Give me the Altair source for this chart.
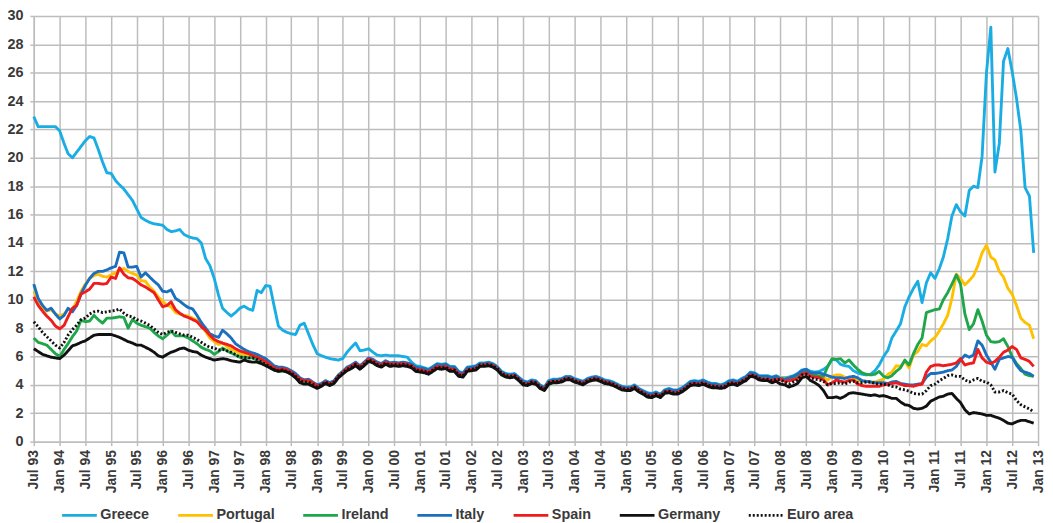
import altair as alt
import pandas as pd

START = "1993-07-01"
N_MONTHS = 234  # Jul 1993 .. Dec 2012, monthly

# Monthly 10-year government bond yields (%)
greece = [
    22.9, 22.2, 22.2, 22.2, 22.2, 22.2,
    21.9, 21.0, 20.3, 20.0, 20.4, 20.8, 21.2, 21.5, 21.4, 20.6, 19.7, 18.95,
    18.9, 18.4, 18.1, 17.8, 17.4, 17.0, 16.4, 15.8, 15.6, 15.45, 15.35, 15.3,
    15.25, 14.95, 14.8, 14.85, 14.95, 14.6, 14.45, 14.35, 14.3, 14.0, 12.9, 12.4,
    11.5, 10.3, 9.4, 9.1, 8.85, 9.1, 9.4, 9.55, 9.35, 9.25, 10.65, 10.5,
    11.0, 10.95, 9.6, 8.15, 7.85, 7.7, 7.6, 7.55, 8.2, 8.35, 7.6, 6.85,
    6.2, 6.05, 5.95, 5.85, 5.8, 5.75, 5.85, 6.3, 6.65, 6.95, 6.4, 6.45,
    6.55, 6.3, 6.1, 6.05, 6.1, 6.05, 6.05, 6.05, 6.0, 5.95, 5.6, 5.35,
    5.3, 5.2, 5.1, 5.3, 5.5, 5.45, 5.5, 5.3, 5.3, 4.95, 4.85, 5.25,
    5.3, 5.35, 5.55, 5.55, 5.6, 5.5, 5.3, 4.95, 4.8, 4.75, 4.8, 4.55,
    4.3, 4.2, 4.35, 4.3, 4.0, 3.85, 4.3, 4.4, 4.4, 4.45, 4.6, 4.6,
    4.45, 4.35, 4.25, 4.45, 4.55, 4.6, 4.5, 4.35, 4.3, 4.2, 4.05, 3.9,
    3.85, 3.85, 4.0, 3.75, 3.6, 3.45, 3.4, 3.5, 3.35, 3.65, 3.75, 3.65,
    3.65, 3.8, 4.0, 4.25, 4.3, 4.25, 4.35, 4.2, 4.1, 4.1, 4.0, 4.1,
    4.3, 4.35, 4.25, 4.45, 4.6, 4.9, 4.85, 4.65, 4.65, 4.65, 4.55, 4.65,
    4.5, 4.5, 4.55, 4.65, 4.8, 5.05, 5.1, 4.95, 4.9, 4.95, 5.1, 5.3,
    5.8, 5.75, 5.45, 5.35, 5.3, 5.0, 4.85, 4.75, 4.7, 4.75, 5.0, 5.4,
    6.0, 6.45, 7.3, 7.8, 8.3, 9.5, 10.2, 10.8, 11.3, 9.8, 11.2, 11.9,
    11.5, 12.2, 13.0, 14.3, 15.9, 16.7, 16.2, 15.9, 17.7, 18.0, 17.9, 20.1,
    26.0, 29.2, 19.0, 21.0, 26.8, 27.7, 26.1, 24.2, 21.9, 17.9, 17.3, 13.3,
]

portugal = [
    10.6, 10.0, 9.4, 9.2, 9.3, 9.0,
    8.85, 9.0, 9.3, 9.3, 9.9, 10.6, 11.1, 11.5, 11.7, 11.8, 11.65, 11.6,
    11.75, 11.9, 12.1, 12.2, 12.0, 11.85, 11.75, 11.35, 11.3, 10.9, 10.6, 10.2,
    9.9, 9.6, 9.5, 9.1, 9.0, 8.9, 8.85, 8.7, 8.55, 8.2, 7.75, 7.3,
    7.05, 6.85, 6.95, 6.7, 6.5, 6.4, 6.2, 6.15, 6.1, 6.1, 6.0, 5.8,
    5.6, 5.4, 5.2, 5.1, 5.15, 5.0, 4.85, 4.6, 4.35, 4.25, 4.25, 4.1,
    3.95, 4.05, 4.25, 4.1, 4.25, 4.65, 4.9, 5.2, 5.35, 5.55, 5.3, 5.55,
    5.85, 5.75, 5.55, 5.45, 5.65, 5.5, 5.55, 5.5, 5.55, 5.5, 5.4, 5.15,
    5.1, 5.05, 4.95, 5.15, 5.35, 5.3, 5.35, 5.15, 5.15, 4.8, 4.75, 5.1,
    5.15, 5.2, 5.45, 5.45, 5.5, 5.4, 5.2, 4.85, 4.7, 4.65, 4.7, 4.45,
    4.15, 4.1, 4.25, 4.2, 3.9, 3.75, 4.2, 4.3, 4.3, 4.35, 4.5, 4.5,
    4.35, 4.25, 4.15, 4.35, 4.45, 4.5, 4.4, 4.25, 4.2, 4.1, 3.95, 3.8,
    3.75, 3.75, 3.9, 3.65, 3.5, 3.3, 3.25, 3.4, 3.25, 3.55, 3.65, 3.55,
    3.55, 3.7, 3.9, 4.15, 4.2, 4.15, 4.25, 4.1, 4.0, 4.0, 3.9, 4.0,
    4.2, 4.25, 4.15, 4.35, 4.5, 4.8, 4.75, 4.55, 4.55, 4.5, 4.4, 4.5,
    4.5, 4.45, 4.5, 4.55, 4.65, 4.85, 4.95, 4.75, 4.7, 4.65, 4.55, 4.35,
    4.6, 4.7, 4.7, 4.55, 4.45, 4.4, 4.3, 4.25, 4.25, 4.2, 4.2, 4.3,
    4.4, 4.75, 4.9, 5.35, 5.3, 5.65, 5.2, 6.1, 6.35, 6.85, 6.75, 7.1,
    7.35, 7.8, 8.3, 8.9, 10.1, 11.8, 11.5, 11.05, 11.35, 11.7, 12.4, 13.3,
    13.85, 13.0, 12.8, 12.0, 11.6, 10.8, 10.4, 9.6, 8.7, 8.4, 8.2, 7.25,
]

ireland = [
    7.3, 7.0, 6.9, 6.8, 6.5, 6.2,
    6.0, 6.5, 6.9, 7.4, 7.8, 8.55, 8.45, 8.5, 8.9, 8.6, 8.35, 8.7,
    8.7, 8.75, 8.8, 8.75, 8.0, 8.6, 8.35, 8.2, 8.1, 8.0, 7.7, 7.45,
    7.25, 7.5, 7.8, 7.45, 7.45, 7.45, 7.3, 7.1, 6.9, 6.65, 6.5, 6.4,
    6.15, 6.35, 6.6, 6.4, 6.25, 6.1, 5.95, 5.95, 5.9, 5.9, 5.75, 5.6,
    5.45, 5.2, 5.05, 4.95, 5.0, 4.9, 4.75, 4.5, 4.2, 4.1, 4.1, 3.95,
    3.8, 3.95, 4.15, 4.0, 4.15, 4.55, 4.8, 5.05, 5.2, 5.4, 5.15, 5.4,
    5.7, 5.6, 5.4, 5.3, 5.5, 5.35, 5.4, 5.35, 5.4, 5.35, 5.25, 5.0,
    4.95, 4.9, 4.8, 5.0, 5.2, 5.15, 5.2, 5.0, 5.0, 4.65, 4.6, 5.0,
    5.05, 5.1, 5.35, 5.35, 5.4, 5.3, 5.1, 4.75, 4.6, 4.55, 4.6, 4.35,
    4.05, 4.0, 4.15, 4.1, 3.8, 3.65, 4.0, 4.2, 4.2, 4.25, 4.4, 4.4,
    4.25, 4.15, 4.05, 4.25, 4.35, 4.4, 4.3, 4.15, 4.1, 4.0, 3.85, 3.7,
    3.65, 3.65, 3.8, 3.55, 3.35, 3.15, 3.1, 3.25, 3.15, 3.45, 3.5, 3.4,
    3.4, 3.55, 3.75, 4.0, 4.05, 4.0, 4.1, 3.95, 3.85, 3.85, 3.8, 3.85,
    4.05, 4.1, 4.0, 4.2, 4.35, 4.65, 4.6, 4.4, 4.35, 4.35, 4.25, 4.35,
    4.45, 4.4, 4.45, 4.5, 4.6, 4.85, 4.95, 4.75, 4.7, 4.6, 4.6, 5.3,
    5.85, 5.8, 5.85, 5.55, 5.75, 5.4, 5.1, 4.85, 4.75, 4.7, 4.75, 4.95,
    4.6, 4.5, 4.65, 4.95, 5.2, 5.75, 5.4, 6.2, 6.85, 7.3, 9.1, 9.2,
    9.3, 9.35, 10.0, 10.5, 11.1, 11.75, 11.1, 9.0, 7.9, 8.3, 9.3, 8.5,
    7.5, 7.05, 7.0, 7.05, 7.25, 6.7, 6.0, 5.5, 5.15, 4.75, 4.65, 4.6,
]

italy = [
    11.1, 10.1, 9.6, 9.25, 9.4, 9.0,
    8.65, 8.9, 9.4, 9.15, 9.6, 10.4, 11.0, 11.5, 11.85, 12.0, 12.0, 12.1,
    12.25, 12.35, 13.35, 13.3, 12.3, 12.3, 12.35, 11.6, 11.9, 11.6, 11.3, 11.05,
    10.6, 10.55, 10.7, 10.1, 9.9, 9.65, 9.45, 9.35, 8.9, 8.4, 8.0, 7.6,
    7.45, 7.35, 7.85, 7.6, 7.3, 6.9, 6.7, 6.5, 6.35, 6.25, 6.15, 6.0,
    5.85, 5.6, 5.35, 5.25, 5.25, 5.15, 5.0, 4.8, 4.5, 4.35, 4.4, 4.2,
    4.0, 4.1, 4.3, 4.15, 4.3, 4.7, 4.95, 5.25, 5.4, 5.6, 5.35, 5.6,
    5.9, 5.8, 5.6, 5.5, 5.7, 5.55, 5.6, 5.55, 5.6, 5.55, 5.45, 5.25,
    5.2, 5.15, 5.05, 5.25, 5.45, 5.4, 5.45, 5.25, 5.25, 4.9, 4.8, 5.2,
    5.25, 5.3, 5.5, 5.5, 5.55, 5.45, 5.25, 4.9, 4.75, 4.7, 4.75, 4.5,
    4.25, 4.15, 4.3, 4.25, 3.95, 3.8, 4.25, 4.35, 4.35, 4.4, 4.55, 4.55,
    4.4, 4.3, 4.2, 4.4, 4.5, 4.55, 4.45, 4.3, 4.25, 4.15, 4.0, 3.85,
    3.8, 3.8, 3.95, 3.7, 3.55, 3.4, 3.35, 3.45, 3.3, 3.6, 3.7, 3.6,
    3.6, 3.75, 3.95, 4.2, 4.25, 4.2, 4.3, 4.15, 4.05, 4.05, 3.95, 4.05,
    4.25, 4.3, 4.2, 4.4, 4.55, 4.85, 4.8, 4.6, 4.6, 4.6, 4.5, 4.6,
    4.45, 4.4, 4.5, 4.6, 4.75, 5.0, 5.1, 4.85, 4.85, 4.85, 4.75, 4.65,
    4.55, 4.5, 4.5, 4.45, 4.55, 4.6, 4.5, 4.3, 4.25, 4.2, 4.15, 4.15,
    4.15, 4.1, 4.2, 4.25, 4.1, 4.05, 4.0, 4.0, 4.05, 4.1, 4.55, 4.8,
    4.8, 4.85, 4.9, 5.0, 5.05, 5.3, 5.75, 6.1, 5.95, 6.1, 7.1, 6.8,
    6.1, 5.6, 5.1, 5.8, 5.9, 6.0, 5.95, 5.4, 5.0, 4.9, 4.8, 4.6,
]

spain = [
    10.2, 9.6, 9.2, 8.85, 8.55, 8.15,
    7.95, 8.2, 8.8, 9.4, 9.6, 10.4, 10.55, 10.75, 11.15, 11.15, 11.1, 11.15,
    11.6, 11.5, 12.25, 11.8, 11.55, 11.5, 11.3, 11.05, 10.9, 10.7, 10.5, 10.0,
    9.5, 9.6, 9.85, 9.3, 9.05, 8.85, 8.75, 8.6, 8.45, 8.1, 7.85, 7.5,
    7.2, 7.05, 6.95, 6.85, 6.75, 6.55, 6.4, 6.3, 6.2, 6.05, 5.95, 5.8,
    5.65, 5.4, 5.2, 5.1, 5.15, 5.05, 4.9, 4.65, 4.4, 4.3, 4.3, 4.15,
    3.9, 4.0, 4.2, 4.05, 4.2, 4.6, 4.85, 5.15, 5.3, 5.5, 5.25, 5.5,
    5.8, 5.7, 5.5, 5.4, 5.6, 5.45, 5.5, 5.45, 5.5, 5.45, 5.35, 5.1,
    5.05, 5.0, 4.9, 5.1, 5.3, 5.25, 5.3, 5.1, 5.1, 4.75, 4.7, 5.05,
    5.1, 5.15, 5.4, 5.4, 5.45, 5.35, 5.15, 4.8, 4.65, 4.6, 4.65, 4.4,
    4.1, 4.05, 4.2, 4.15, 3.85, 3.7, 4.15, 4.25, 4.25, 4.3, 4.45, 4.45,
    4.3, 4.2, 4.1, 4.3, 4.4, 4.45, 4.35, 4.2, 4.15, 4.05, 3.9, 3.75,
    3.7, 3.7, 3.85, 3.6, 3.45, 3.25, 3.2, 3.35, 3.2, 3.5, 3.55, 3.45,
    3.45, 3.6, 3.8, 4.05, 4.1, 4.05, 4.15, 4.0, 3.9, 3.9, 3.85, 3.9,
    4.1, 4.15, 4.05, 4.25, 4.4, 4.7, 4.65, 4.45, 4.4, 4.4, 4.3, 4.4,
    4.4, 4.25, 4.3, 4.35, 4.45, 4.75, 4.85, 4.6, 4.55, 4.5, 4.35, 4.0,
    4.15, 4.35, 4.25, 4.2, 4.3, 4.35, 4.05, 3.95, 3.9, 3.9, 3.9, 3.9,
    4.0, 4.05, 4.1, 4.15, 4.05, 3.95, 3.95, 3.9, 4.0, 4.05, 4.9, 5.3,
    5.4, 5.4, 5.35, 5.4, 5.45, 5.55, 5.85, 5.4, 5.5, 5.55, 6.5, 5.9,
    5.6, 5.5, 5.65, 5.95, 6.3, 6.45, 6.7, 6.5, 5.9, 5.8, 5.65, 5.3,
]

germany = [
    6.55, 6.35, 6.15, 6.05, 5.95, 5.9,
    5.85, 6.1, 6.4, 6.75, 6.85, 7.0, 7.1, 7.3, 7.5, 7.55, 7.55, 7.55,
    7.55, 7.45, 7.35, 7.2, 7.05, 6.95, 6.8, 6.8, 6.65, 6.5, 6.3, 6.05,
    5.95, 6.15, 6.3, 6.4, 6.55, 6.6, 6.45, 6.35, 6.3, 6.1, 5.95, 5.85,
    5.75, 5.8, 5.85, 5.8, 5.7, 5.65, 5.6, 5.75, 5.65, 5.6, 5.6, 5.5,
    5.35, 5.2, 5.05, 4.95, 5.0, 4.9, 4.75, 4.5, 4.15, 4.05, 4.05, 3.9,
    3.75, 3.9, 4.1, 3.95, 4.1, 4.5, 4.75, 5.0, 5.15, 5.35, 5.1, 5.35,
    5.65, 5.55, 5.35, 5.25, 5.45, 5.3, 5.35, 5.3, 5.35, 5.3, 5.2, 4.95,
    4.9, 4.85, 4.75, 4.95, 5.15, 5.1, 5.15, 4.95, 4.95, 4.6, 4.55, 4.95,
    5.0, 5.05, 5.3, 5.3, 5.35, 5.25, 5.05, 4.7, 4.55, 4.5, 4.55, 4.3,
    4.0, 3.95, 4.1, 4.05, 3.75, 3.6, 4.05, 4.15, 4.15, 4.2, 4.35, 4.35,
    4.2, 4.1, 4.0, 4.2, 4.3, 4.35, 4.25, 4.1, 4.05, 3.95, 3.8, 3.65,
    3.6, 3.6, 3.75, 3.5, 3.35, 3.15, 3.1, 3.25, 3.1, 3.4, 3.45, 3.35,
    3.35, 3.5, 3.7, 3.95, 4.0, 3.95, 4.05, 3.9, 3.8, 3.8, 3.75, 3.8,
    4.0, 4.05, 3.95, 4.15, 4.3, 4.6, 4.55, 4.35, 4.3, 4.3, 4.15, 4.25,
    4.05, 4.0, 3.85, 3.95, 4.1, 4.5, 4.6, 4.3, 4.15, 3.95, 3.6, 3.1,
    3.1, 3.15, 3.05, 3.2, 3.4, 3.45, 3.4, 3.35, 3.3, 3.25, 3.3, 3.2,
    3.25, 3.15, 3.05, 3.05, 2.8, 2.6, 2.55, 2.35, 2.3, 2.35, 2.5, 2.85,
    3.0, 3.15, 3.2, 3.35, 3.4, 3.05, 2.75, 2.25, 1.95, 2.05, 2.0, 1.95,
    1.85, 1.85, 1.75, 1.65, 1.5, 1.3, 1.25, 1.4, 1.5, 1.5, 1.4, 1.3,
]

euro_area = [
    8.45, 8.1, 7.7, 7.4, 7.1, 6.8,
    6.6, 7.0, 7.5, 7.9, 8.2, 8.6, 8.7, 9.0, 9.15, 9.2, 9.1, 9.15,
    9.2, 9.25, 9.35, 9.05, 8.85, 8.8, 8.6, 8.5, 8.35, 8.2, 7.95, 7.7,
    7.55, 7.7, 7.8, 7.7, 7.6, 7.5, 7.5, 7.35, 7.2, 7.0, 6.8, 6.65,
    6.6, 6.45, 6.5, 6.4, 6.3, 6.15, 5.95, 5.95, 5.9, 5.9, 5.8, 5.6,
    5.45, 5.25, 5.1, 5.0, 5.05, 4.95, 4.85, 4.6, 4.3, 4.2, 4.2, 4.05,
    3.85, 4.0, 4.2, 4.05, 4.2, 4.6, 4.85, 5.1, 5.25, 5.45, 5.2, 5.45,
    5.75, 5.65, 5.45, 5.35, 5.55, 5.4, 5.45, 5.4, 5.45, 5.4, 5.3, 5.05,
    5.0, 4.95, 4.85, 5.05, 5.25, 5.2, 5.25, 5.05, 5.05, 4.7, 4.65, 5.05,
    5.1, 5.15, 5.4, 5.4, 5.45, 5.35, 5.15, 4.8, 4.65, 4.6, 4.65, 4.4,
    4.1, 4.05, 4.2, 4.15, 3.85, 3.7, 4.15, 4.25, 4.25, 4.3, 4.45, 4.45,
    4.3, 4.2, 4.1, 4.3, 4.4, 4.45, 4.35, 4.2, 4.15, 4.05, 3.9, 3.75,
    3.7, 3.7, 3.85, 3.6, 3.45, 3.25, 3.2, 3.35, 3.2, 3.5, 3.55, 3.45,
    3.45, 3.6, 3.8, 4.05, 4.1, 4.05, 4.15, 4.0, 3.9, 3.9, 3.85, 3.9,
    4.1, 4.15, 4.05, 4.25, 4.4, 4.7, 4.65, 4.45, 4.4, 4.4, 4.3, 4.4,
    4.35, 4.2, 4.05, 4.2, 4.35, 4.7, 4.75, 4.5, 4.4, 4.35, 4.25, 4.0,
    4.1, 4.1, 4.15, 4.05, 4.2, 4.25, 4.15, 4.15, 4.2, 4.2, 4.1, 4.05,
    4.05, 4.0, 3.9, 3.85, 3.7, 3.65, 3.55, 3.4, 3.35, 3.35, 3.6, 3.95,
    4.05, 4.3, 4.45, 4.65, 4.7, 4.6, 4.6, 4.35, 4.2, 4.35, 4.45, 4.25,
    4.2, 4.0, 3.5, 3.5, 3.6, 3.45, 3.35, 2.9, 2.6, 2.45, 2.3, 2.1,
]

names = ["Greece", "Portugal", "Ireland", "Italy", "Spain", "Germany", "Euro area"]
values = [greece, portugal, ireland, italy, spain, germany, euro_area]
colors = ["#1AADE4", "#FFC000", "#1FA64A", "#1B6FBF", "#EE1C1C", "#111111", "#111111"]
dashes = [[1, 0], [1, 0], [1, 0], [1, 0], [1, 0], [1, 0], [2, 2]]
widths = [2.9, 2.9, 2.9, 2.9, 2.9, 2.9, 1.8]

y_ticks = list(range(0, 31, 2))

dates = pd.date_range(START, periods=N_MONTHS, freq="MS").strftime("%Y-%m-%d")
rows = []
for name, vals in zip(names, values):
    for d, v in zip(dates, vals):
        rows.append({"date": d, "country": name, "value": v})
df = pd.DataFrame(rows)

x_ticks = []
for yr in range(1993, 2014):
    for mo in (1, 7):
        if (yr, mo) >= (1993, 7) and (yr, mo) <= (2013, 1):
            x_ticks.append(alt.DateTime(year=yr, month=mo, date=1, utc=True))

FONT = "Liberation Sans"
GRID = "#BDBDBD"
TXT = "#3A3A3A"

legend = alt.Legend(
    title=None, orient="none", direction="horizontal", legendX=27, legendY=484,
    symbolType="stroke", symbolSize=1225, symbolStrokeWidth=3, labelOffset=2,
    columnPadding=22, labelFont=FONT, labelFontWeight="bold", labelFontSize=14.5,
    labelColor=TXT, padding=0,
)

chart = alt.Chart(df).mark_line(strokeJoin="round").encode(
    x=alt.X(
        "date:T",
        scale=alt.Scale(type="utc", domain=[x_ticks[0], x_ticks[-1]]),
        axis=alt.Axis(
            values=x_ticks, labelExpr="utcFormat(datum.value, '%b %y')",
            labelAngle=-90, labelAlign="right", labelBaseline="middle",
            labelFontSize=14, labelPadding=4, title=None,
        ),
    ),
    y=alt.Y(
        "value:Q",
        scale=alt.Scale(domain=[0, 30], nice=False),
        axis=alt.Axis(values=y_ticks, labelFontSize=14.5, labelPadding=7, title=None),
    ),
    color=alt.Color("country:N", scale=alt.Scale(domain=names, range=colors), legend=legend),
    strokeDash=alt.StrokeDash("country:N", scale=alt.Scale(domain=names, range=dashes), legend=legend),
    strokeWidth=alt.StrokeWidth("country:N", scale=alt.Scale(domain=names, range=widths), legend=None),
).properties(
    width=1012, height=429,
    padding={"left": 26, "top": 6, "right": 7, "bottom": 80},
    autosize=alt.AutoSizeParams(type="none"),
).configure_view(
    stroke=None
).configure_axis(
    gridColor=GRID, gridWidth=1.5, domainColor=GRID, domainWidth=1.5,
    tickColor=GRID, tickSize=4, tickWidth=1.5,
    labelFont=FONT, labelFontWeight="bold", labelColor=TXT,
)

chart.save("out.html", embed_options={"renderer": "svg", "actions": False})
